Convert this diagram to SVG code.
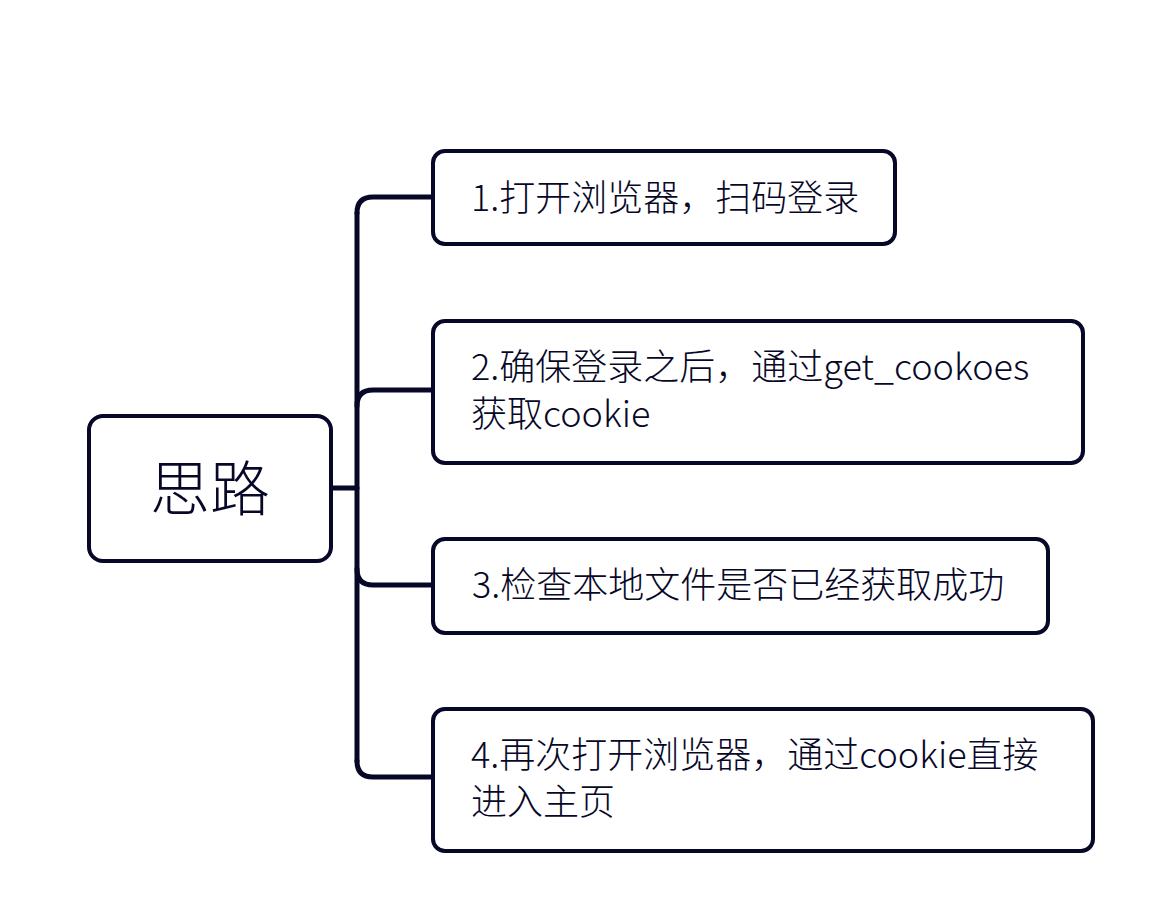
<svg xmlns="http://www.w3.org/2000/svg" width="1172" height="906" viewBox="0 0 1172 906">
<style>
.box{fill:#ffffff;stroke:#070728;stroke-width:4}
.t{font-family:"Noto Sans CJK SC","Noto Sans",sans-serif;font-size:36px;font-weight:300;fill:#070728}
.root{font-size:60px}
.c{fill:none;stroke:#070728;stroke-width:5;stroke-linecap:round;stroke-linejoin:round}
</style>
<rect width="1172" height="906" fill="#ffffff"/>
<g id="connectors">
<path class="c" d="M331 488 H357"/>
<path class="c" d="M357 213 V761"/>
<path class="c" d="M357 213 Q357 197 373 197 H433"/>
<path class="c" d="M357 406 Q357 390 373 390 H433"/>
<path class="c" d="M357 569 Q357 585 373 585 H433"/>
<path class="c" d="M357 761 Q357 777 373 777 H433"/>
</g>
<g id="root">
<rect class="box" x="89" y="416" width="242" height="145" rx="14"/>
<text class="t root" x="210" y="511" text-anchor="middle">思路</text>
</g>
<g id="n1">
<rect class="box" x="433" y="151" width="462" height="93" rx="12"/>
<text class="t" x="471" y="211">1.打开浏览器，扫码登录</text>
</g>
<g id="n2">
<rect class="box" x="433" y="321" width="650" height="142" rx="12"/>
<text class="t" x="471" y="380">2.确保登录之后，通过get_cookoes</text>
<text class="t" x="471" y="427">获取cookie</text>
</g>
<g id="n3">
<rect class="box" x="433" y="539" width="615" height="94" rx="12"/>
<text class="t" x="472" y="598">3.检查本地文件是否已经获取成功</text>
</g>
<g id="n4">
<rect class="box" x="433" y="709" width="660" height="142" rx="12"/>
<text class="t" x="471" y="768">4.再次打开浏览器，通过cookie直接</text>
<text class="t" x="471" y="815">进入主页</text>
</g>
</svg>
